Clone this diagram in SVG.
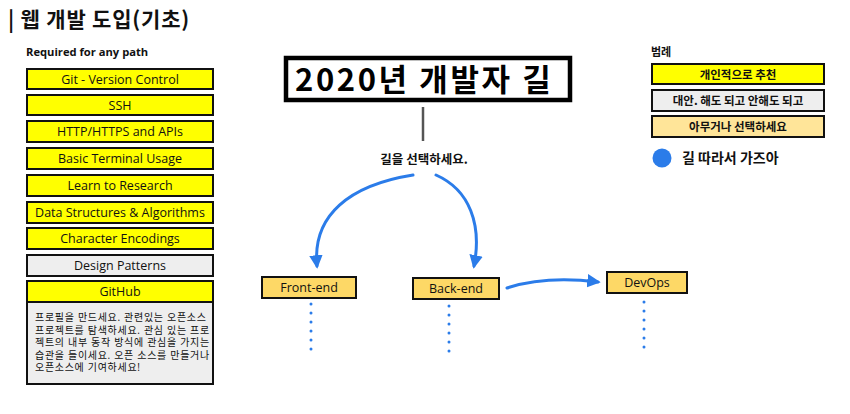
<svg xmlns="http://www.w3.org/2000/svg" width="850" height="414" viewBox="0 0 850 414">
<defs>
<marker id="ah" viewBox="0 0 10 10" refX="8" refY="5" markerWidth="4.5" markerHeight="4.5" orient="auto" markerUnits="strokeWidth">
<path d="M0,0 L10,5 L0,10 Z" fill="#2b7ce9"/>
</marker>
<style>
text{font-family:"Open Sans","Noto Sans CJK KR",sans-serif;fill:#111}
.k{font-family:"Noto Sans CJK KR",sans-serif}
.box{stroke:#111;stroke-width:2}
.y{fill:#ffff00}
.g{fill:#eeeeee}
.o{fill:#fdd866}
.l{fill:#ffe599}
.lbl{font-size:12.5px;text-anchor:middle}
.node{font-size:12.5px;text-anchor:middle}
.leg{font-family:"Noto Sans CJK KR",sans-serif;font-size:11.5px;text-anchor:middle;font-weight:700}
.arr{fill:none;stroke:#2b7ce9;stroke-width:3;stroke-linecap:round}
.dot{fill:none;stroke:#2b7ce9;stroke-width:3;stroke-linecap:round;stroke-dasharray:0 9}
</style>
</defs>
<rect width="850" height="414" fill="#ffffff"/>

<g id="header">
<text x="8" y="27" class="k" style="font-size:21px;font-weight:700;letter-spacing:0.8px">| 웹 개발 도입(기초)</text>
<text x="26" y="56" style="font-size:11.2px;font-weight:700">Required for any path</text>
</g>

<g id="git"><rect class="box y" x="27" y="69" width="186" height="20"/><text class="lbl" x="120" y="83.5">Git - Version Control</text></g>
<g id="ssh"><rect class="box y" x="27" y="95" width="186" height="20"/><text class="lbl" x="120" y="109.5">SSH</text></g>
<g id="http"><rect class="box y" x="27" y="121" width="186" height="21"/><text class="lbl" x="120" y="136">HTTP/HTTPS and APIs</text></g>
<g id="terminal"><rect class="box y" x="27" y="148" width="186" height="21"/><text class="lbl" x="120" y="163">Basic Terminal Usage</text></g>
<g id="research"><rect class="box y" x="27" y="175" width="186" height="21"/><text class="lbl" x="120" y="190">Learn to Research</text></g>
<g id="dsa"><rect class="box y" x="27" y="202" width="186" height="21"/><text class="lbl" x="120" y="217">Data Structures &amp; Algorithms</text></g>
<g id="encodings"><rect class="box y" x="27" y="228" width="186" height="21"/><text class="lbl" x="120" y="243">Character Encodings</text></g>
<g id="patterns"><rect class="box g" x="27" y="255" width="186" height="21"/><text class="lbl" x="120" y="270">Design Patterns</text></g>
<g id="github">
<rect class="box g" x="27" y="302" width="186" height="82"/>
<rect class="box y" x="27" y="281" width="186" height="21"/>
<text class="lbl" x="120" y="296">GitHub</text>
<g class="k" style="font-size:10px;letter-spacing:0.7px">
<text x="35" y="321">프로필을 만드세요. 관련있는 오픈소스</text>
<text x="35" y="333.5">프로젝트를 탐색하세요. 관심 있는 프로</text>
<text x="35" y="346">젝트의 내부 동작 방식에 관심을 가지는</text>
<text x="35" y="358.5">습관을 들이세요. 오픈 소스를 만들거나</text>
<text x="35" y="371">오픈소스에 기여하세요!</text>
</g>
</g>

<g id="title">
<rect x="286" y="58" width="284" height="42" fill="#ffffff" stroke="#000" stroke-width="4.5"/>
<text x="295" y="91" class="k" style="font-size:31px;font-weight:700;fill:#000;letter-spacing:2.6px">2020년 개발자 길</text>
</g>

<g id="choose">
<text x="424" y="164" class="k" style="font-size:12.5px;font-weight:700;text-anchor:middle">길을 선택하세요.</text>
</g>

<g id="legend">
<text x="651" y="56" class="k" style="font-size:11px;font-weight:700">범례</text>
<rect class="box y" x="652" y="64" width="172" height="20"/><text class="leg" x="738" y="78.5">개인적으로 추천</text>
<rect class="box g" x="652" y="90" width="172" height="21"/><text class="leg" x="738" y="105">대안. 해도 되고 안해도 되고</text>
<rect class="box l" x="652" y="116" width="172" height="21"/><text class="leg" x="738" y="131">아무거나 선택하세요</text>
<circle cx="662" cy="158" r="9.5" fill="#2b7ce9"/>
<text x="682" y="163" class="k" style="font-size:14px;font-weight:700">길 따라서 가즈아</text>
</g>

<g id="frontend"><rect class="box o" x="262" y="277" width="94" height="21"/><text class="node" x="309" y="292">Front-end</text></g>
<g id="backend"><rect class="box o" x="413" y="278" width="86" height="21"/><text class="node" x="456" y="293">Back-end</text></g>
<g id="devops"><rect class="box o" x="607" y="272" width="80" height="21"/><text class="node" x="647" y="287">DevOps</text></g>

<g id="connectors">
<line x1="423" y1="107" x2="423" y2="141" stroke="#555" stroke-width="2.5"/>
<path class="arr" d="M413,175 C350,185 312,215 317,266" marker-end="url(#ah)"/>
<path class="arr" d="M436,175 C470,190 482,225 474,266" marker-end="url(#ah)"/>
<path class="arr" d="M507,288 C535,279 565,278 598,282" marker-end="url(#ah)"/>
<path class="dot" d="M311,304 L311,350"/>
<path class="dot" d="M449,306 L449,352"/>
<path class="dot" d="M644,302 L644,355"/>
</g>
</svg>
